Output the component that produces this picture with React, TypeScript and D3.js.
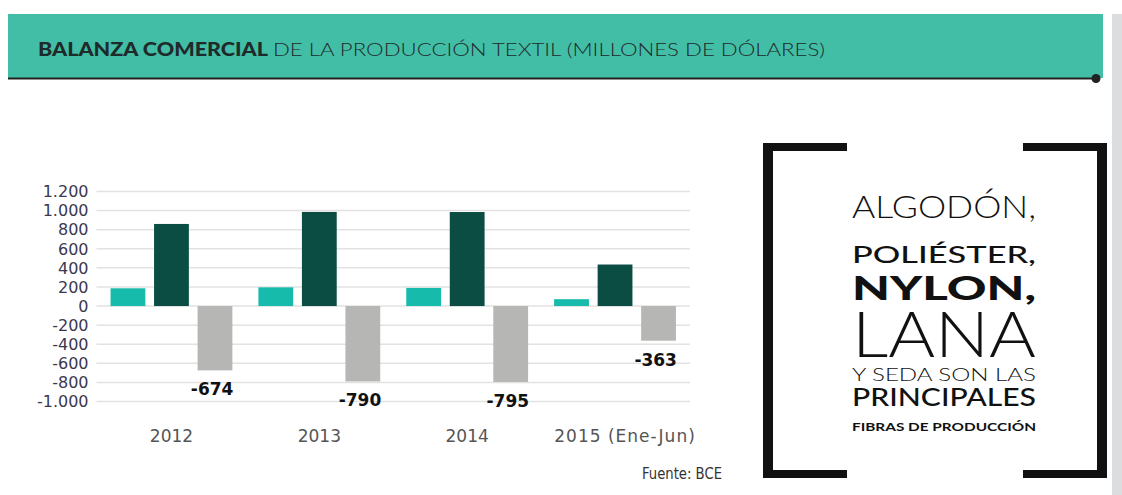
import React from "react";
import * as d3 from "d3";

const categories = ["2012", "2013", "2014", "2015 (Ene-Jun)"];
const seriesNames = ["Exportaciones", "Importaciones", "Balanza"];
const exportsVals = [186, 196, 190, 72];
const importsVals = [860, 986, 985, 435];
const balanceVals = [-674, -790, -795, -363];
const yTicks = [-1000, -800, -600, -400, -200, 0, 200, 400, 600, 800, 1000, 1200];
const seriesColors = ["#17bbab", "#0b4c43", "#b6b7b5"];

const sideLines = [
  { text: "ALGODÓN,", size: 32, weight: 300, y: 218 },
  { text: "POLIÉSTER,", size: 23, weight: 500, y: 263 },
  { text: "NYLON,", size: 32, weight: 900, y: 300 },
  { text: "LANA", size: 64, weight: 300, y: 357 },
  { text: "Y SEDA SON LAS", size: 18, weight: 300, y: 381 },
  { text: "PRINCIPALES", size: 24, weight: 500, y: 406 },
  { text: "FIBRAS DE PRODUCCIÓN", size: 11, weight: 700, y: 431 },
];

const fmt = (v: number) => {
  const s = d3.format(",")(v).replace(/,/g, ".");
  return s.replace("−", "-");
};

export default function App() {
  const x0 = d3.scaleBand<string>().domain(categories).range([96.5, 690]).paddingInner(0.176).paddingOuter(0.095);
  const x1 = d3.scaleBand<string>().domain(seriesNames).range([0, x0.bandwidth()]).paddingInner(0.2);
  const y = d3.scaleLinear().domain([-1000, 1200]).range([401.5, 191.5]);
  const seriesVals = [exportsVals, importsVals, balanceVals];
  const font = "'DejaVu Sans', sans-serif";

  return (
    <svg width={1122} height={495} style={{ position: "absolute", left: 0, top: 0, background: "#fff" }}>
      {/* header */}
      <rect x={8} y={14} width={1095} height={64} fill="#42bea6" />
      <line x1={8} x2={1096} y1={78.5} y2={78.5} stroke="#222" strokeWidth={2} />
      <circle cx={1096} cy={78.5} r={4.5} fill="#222" />
      <text x={38} y={56} fontFamily="Lato, sans-serif" fontWeight={900} fontSize={18} fill="#1f2a2a" textLength={230} lengthAdjust="spacingAndGlyphs">BALANZA COMERCIAL</text>
      <text x={273} y={56} fontFamily="Lato, sans-serif" fontWeight={300} fontSize={18} fill="#1f2a2a" textLength={552} lengthAdjust="spacingAndGlyphs">DE LA PRODUCCIÓN TEXTIL (MILLONES DE DÓLARES)</text>
      <rect x={1112} y={14} width={10} height={481} fill="#dcdddf" />

      {/* grid + y ticks */}
      {yTicks.map((t) => (
        <g key={t}>
          <line x1={96.5} x2={690} y1={y(t)} y2={y(t)} stroke="#e2e2e2" strokeWidth={1.5} />
          <text x={88.5} y={y(t)} dy="0.36em" textAnchor="end" fontFamily={font} fontSize={16} fill="#3a3850">{fmt(t)}</text>
        </g>
      ))}

      {/* bars */}
      {categories.map((c, i) => (
        <g key={c} transform={`translate(${x0(c)},0)`}>
          {seriesNames.map((s, j) => {
            const v = seriesVals[j][i];
            return (
              <rect key={s} x={x1(s)} width={x1.bandwidth()} y={Math.min(y(v), y(0))} height={Math.abs(y(v) - y(0))} fill={seriesColors[j]} />
            );
          })}
          <text x={(x1("Balanza") as number) + x1.bandwidth() + 1} y={y(balanceVals[i]) + 25} textAnchor="end" fontFamily={font} fontWeight="bold" fontSize={17} fill="#111">{fmt(balanceVals[i])}</text>
          <text x={x0.bandwidth() / 2 + (i === 3 ? 10 : 0)} y={442} textAnchor="middle" fontFamily={font} fontSize={17} fill="#555" letterSpacing={i === 3 ? 1 : 0}>{c}</text>
        </g>
      ))}

      <text x={642} y={479} fontFamily="'Liberation Sans Narrow', 'DejaVu Sans Condensed', sans-serif" fontSize={15} fill="#333" textLength={80} lengthAdjust="spacingAndGlyphs">Fuente: BCE</text>

      {/* side block */}
      <g fill="#111">
        <rect x={763} y={143} width={10} height={335} />
        <rect x={763} y={143} width={84} height={8} />
        <rect x={763} y={470} width={84} height={8} />
        <rect x={1097} y={143} width={10} height={335} />
        <rect x={1023} y={143} width={84} height={8} />
        <rect x={1023} y={470} width={84} height={8} />
      </g>
      {sideLines.map((l) => (
        <text key={l.text} x={852} y={l.y} fontFamily="Lato, sans-serif" fontWeight={l.weight} fontSize={l.size} fill="#111" textLength={184} lengthAdjust="spacingAndGlyphs">{l.text}</text>
      ))}
    </svg>
  );
}
